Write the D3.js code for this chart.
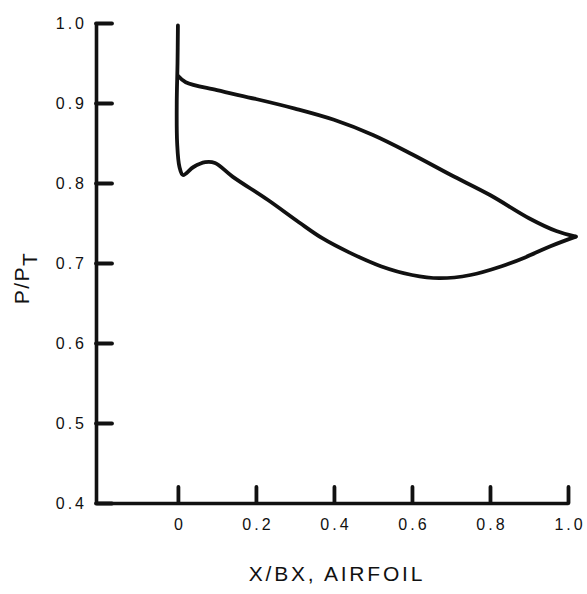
<!DOCTYPE html>
<html>
<head>
<meta charset="utf-8">
<script src="https://cdn.jsdelivr.net/npm/d3@7/dist/d3.min.js"></script>
<style>
  body { margin: 0; background: #fff; }
  svg { display: block; }
  .tick text { font-family: "Liberation Sans", Arial, sans-serif; font-size: 16px; letter-spacing: 3px; fill: #111; }
  .label { font-family: "Liberation Sans", Arial, sans-serif; fill: #111; }
</style>
</head>
<body>
<svg id="chart" width="587" height="594"></svg>
<script>
// pressure ratio along the airfoil
const upperX = [0, 0.02, 0.1, 0.2, 0.3, 0.4, 0.5, 0.6, 0.7, 0.8, 0.9, 0.97, 1.02]
const upperY = [0.934, 0.926, 0.916, 0.905, 0.893, 0.879, 0.86, 0.836, 0.81, 0.785, 0.756, 0.74, 0.733]

const lowerX = [0, -0.001, -0.003, -0.002, 0.004, 0.013, 0.04, 0.07, 0.095, 0.14, 0.23, 0.31, 0.37, 0.44, 0.52, 0.6, 0.67, 0.75, 0.83, 0.89, 0.955, 1.02]
const lowerY = [0.997, 0.95, 0.9, 0.85, 0.82, 0.81, 0.82, 0.826, 0.825, 0.808, 0.779, 0.751, 0.731, 0.713, 0.696, 0.685, 0.681, 0.685, 0.696, 0.707, 0.721, 0.733]

const xTicks = [0, 0.2, 0.4, 0.6, 0.8, 1.0]
const yTicks = [0.4, 0.5, 0.6, 0.7, 0.8, 0.9, 1.0]

const svg = d3.select('#chart')

const x = d3.scaleLinear().domain([-0.21, 1.0]).range([96, 568])
const y = d3.scaleLinear().domain([0.4, 1.0]).range([503, 23])

const fmt = d => d === 0 ? '0' : d3.format('.1f')(d)

// axes, ticks point inward
const yAxis = svg.append('g')
  .attr('transform', `translate(${x.range()[0]},0)`)
  .call(d3.axisLeft(y).tickValues(yTicks).tickFormat(fmt).tickSize(-16).tickSizeOuter(0).tickPadding(9))
const xAxis = svg.append('g')
  .attr('transform', `translate(0,${y.range()[0]})`)
  .call(d3.axisBottom(x).tickValues(xTicks).tickFormat(fmt).tickSize(-16).tickSizeOuter(0).tickPadding(16))

for (let ax of [xAxis, yAxis]) {
  ax.select('.domain').attr('stroke', '#111').attr('stroke-width', 3.6).attr('stroke-linejoin', 'round')
  ax.selectAll('.tick line').attr('stroke', '#111').attr('stroke-width', 3.8).attr('stroke-linecap', 'round')
}
yAxis.selectAll('.tick text').attr('dy', '0.35em')
xAxis.selectAll('.tick text').attr('dx', '1.5px')

// the two surface curves
const line = d3.line()
  .x(d => x(d[0]))
  .y(d => y(d[1]))
  .curve(d3.curveCatmullRom.alpha(0.5))

const upper = upperX.map((v, i) => [v, upperY[i]])
const lower = lowerX.map((v, i) => [v, lowerY[i]])

for (let pts of [lower, upper]) {
  svg.append('path')
    .attr('d', line(pts))
    .attr('fill', 'none')
    .attr('stroke', '#111')
    .attr('stroke-width', 3.8)
    .attr('stroke-linecap', 'round')
    .attr('stroke-linejoin', 'round')
}

// axis titles
svg.append('text')
  .attr('class', 'label')
  .attr('x', 337)
  .attr('y', 581)
  .attr('text-anchor', 'middle')
  .style('font-size', '21px')
  .style('letter-spacing', '2.8px')
  .text('X/BX, AIRFOIL')

const yl = svg.append('text')
  .attr('class', 'label')
  .attr('transform', 'translate(29,278) rotate(-90)')
  .attr('text-anchor', 'middle')
  .style('font-size', '21px')
  .style('letter-spacing', '1.5px')
yl.append('tspan').text('P/P')
yl.append('tspan').attr('dy', 8).text('T')
</script>
</body>
</html>
